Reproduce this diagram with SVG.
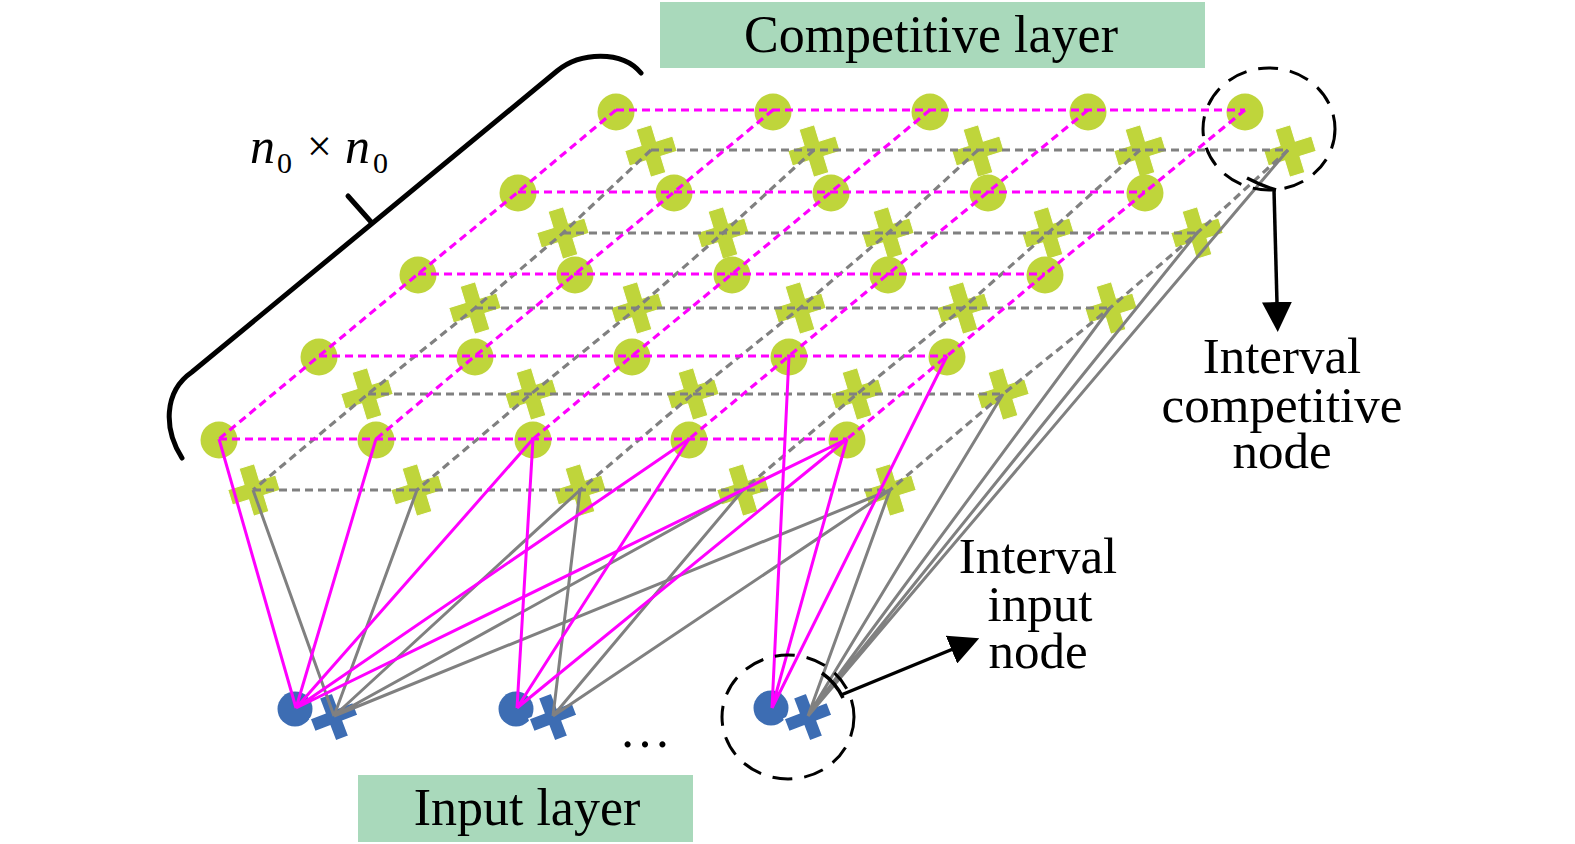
<svg xmlns="http://www.w3.org/2000/svg" width="1575" height="844" viewBox="0 0 1575 844">
<style>
.gc{fill:#bfd53b}
.gx{fill:#bfd53b;stroke:#ffffff;stroke-width:1}
.bc{fill:#3d6db3}
.bx{fill:#3d6db3;stroke:#ffffff;stroke-width:1.5}
.md{fill:none;stroke:#ff00ff;stroke-width:3.2;stroke-dasharray:8 5}
.gd{fill:none;stroke:#808080;stroke-width:3.2;stroke-dasharray:8 5}
.ms{fill:none;stroke:#ff00ff;stroke-width:3}
.gs{fill:none;stroke:#808080;stroke-width:3}
.box{fill:#a9d9bb}
.t{font-family:"Liberation Serif","Times New Roman",serif;fill:#000000}
.ring{fill:none;stroke:#000000;stroke-width:3;stroke-dasharray:20 12}
.arr{fill:none;stroke:#000000;stroke-width:3.5}
</style>
<defs>
<path id="plus" d="M-8,-25 H8 V-8 H25 V8 H8 V25 H-8 V8 H-25 V-8 H-8 Z"/>
<path id="bplus" d="M-7,-23 H7 V-7 H23 V7 H7 V23 H-7 V7 H-23 V-7 H-7 Z"/>
<marker id="ah" viewBox="0 0 30 30" refX="20" refY="15" markerWidth="30" markerHeight="30" markerUnits="userSpaceOnUse" orient="auto">
<path d="M0,0 L30,15 L0,30 Z" fill="#000000"/>
</marker>
</defs>
<rect class="box" x="660" y="2" width="545" height="66"/>
<text class="t" x="931" y="52" font-size="52" text-anchor="middle">Competitive layer</text>
<rect class="box" x="358" y="775" width="335" height="67"/>
<text class="t" x="527" y="825" font-size="52" text-anchor="middle">Input layer</text>
<g id="brace">
<path d="M182,458 C164,430 163,392 192,372 L557,71 C580,52 622,50 641,73" fill="none" stroke="#000000" stroke-width="5" stroke-linecap="round"/>
<path d="M372,223 L348,196" fill="none" stroke="#000000" stroke-width="5" stroke-linecap="round"/>
</g>
<g id="size-label">
<text class="t" x="250" y="163" font-size="50" font-style="italic">n</text>
<text class="t" x="277" y="173" font-size="30">0</text>
<text class="t" x="307" y="161" font-size="44">×</text>
<text class="t" x="345" y="163" font-size="50" font-style="italic">n</text>
<text class="t" x="373" y="173" font-size="30">0</text>
</g>
<g id="cross-nodes">
<g id="x-0-0"><use href="#plus" class="gx" transform="translate(651,151) rotate(-17)"/></g>
<g id="x-0-1"><use href="#plus" class="gx" transform="translate(814,151) rotate(-17)"/></g>
<g id="x-0-2"><use href="#plus" class="gx" transform="translate(978,151) rotate(-17)"/></g>
<g id="x-0-3"><use href="#plus" class="gx" transform="translate(1140,151) rotate(-17)"/></g>
<g id="x-0-4"><use href="#plus" class="gx" transform="translate(1290,151) rotate(-17)"/></g>
<g id="x-1-0"><use href="#plus" class="gx" transform="translate(563,233) rotate(-17)"/></g>
<g id="x-1-1"><use href="#plus" class="gx" transform="translate(723,233) rotate(-17)"/></g>
<g id="x-1-2"><use href="#plus" class="gx" transform="translate(888,233) rotate(-17)"/></g>
<g id="x-1-3"><use href="#plus" class="gx" transform="translate(1048,233) rotate(-17)"/></g>
<g id="x-1-4"><use href="#plus" class="gx" transform="translate(1197,233) rotate(-17)"/></g>
<g id="x-2-0"><use href="#plus" class="gx" transform="translate(475,308) rotate(-17)"/></g>
<g id="x-2-1"><use href="#plus" class="gx" transform="translate(637,308) rotate(-17)"/></g>
<g id="x-2-2"><use href="#plus" class="gx" transform="translate(800,308) rotate(-17)"/></g>
<g id="x-2-3"><use href="#plus" class="gx" transform="translate(963,308) rotate(-17)"/></g>
<g id="x-2-4"><use href="#plus" class="gx" transform="translate(1111,308) rotate(-17)"/></g>
<g id="x-3-0"><use href="#plus" class="gx" transform="translate(367,394) rotate(-17)"/></g>
<g id="x-3-1"><use href="#plus" class="gx" transform="translate(531,394) rotate(-17)"/></g>
<g id="x-3-2"><use href="#plus" class="gx" transform="translate(693,394) rotate(-17)"/></g>
<g id="x-3-3"><use href="#plus" class="gx" transform="translate(857,394) rotate(-17)"/></g>
<g id="x-3-4"><use href="#plus" class="gx" transform="translate(1003,394) rotate(-17)"/></g>
<g id="x-4-0"><use href="#plus" class="gx" transform="translate(254,490) rotate(-17)"/></g>
<g id="x-4-1"><use href="#plus" class="gx" transform="translate(417,490) rotate(-17)"/></g>
<g id="x-4-2"><use href="#plus" class="gx" transform="translate(580,490) rotate(-17)"/></g>
<g id="x-4-3"><use href="#plus" class="gx" transform="translate(743,490) rotate(-17)"/></g>
<g id="x-4-4"><use href="#plus" class="gx" transform="translate(890,490) rotate(-17)"/></g>
</g>
<g id="circle-nodes">
<g id="c-0-0"><circle class="gc" cx="616" cy="112" r="18.5"/></g>
<g id="c-0-1"><circle class="gc" cx="773" cy="112" r="18.5"/></g>
<g id="c-0-2"><circle class="gc" cx="930" cy="112" r="18.5"/></g>
<g id="c-0-3"><circle class="gc" cx="1088" cy="112" r="18.5"/></g>
<g id="c-0-4"><circle class="gc" cx="1245" cy="112" r="18.5"/></g>
<g id="c-1-0"><circle class="gc" cx="518" cy="193" r="18.5"/></g>
<g id="c-1-1"><circle class="gc" cx="674" cy="193" r="18.5"/></g>
<g id="c-1-2"><circle class="gc" cx="831" cy="193" r="18.5"/></g>
<g id="c-1-3"><circle class="gc" cx="988" cy="193" r="18.5"/></g>
<g id="c-1-4"><circle class="gc" cx="1145" cy="193" r="18.5"/></g>
<g id="c-2-0"><circle class="gc" cx="418" cy="275" r="18.5"/></g>
<g id="c-2-1"><circle class="gc" cx="575" cy="275" r="18.5"/></g>
<g id="c-2-2"><circle class="gc" cx="732" cy="275" r="18.5"/></g>
<g id="c-2-3"><circle class="gc" cx="888" cy="275" r="18.5"/></g>
<g id="c-2-4"><circle class="gc" cx="1045" cy="275" r="18.5"/></g>
<g id="c-3-0"><circle class="gc" cx="319" cy="357" r="18.5"/></g>
<g id="c-3-1"><circle class="gc" cx="475" cy="357" r="18.5"/></g>
<g id="c-3-2"><circle class="gc" cx="632" cy="357" r="18.5"/></g>
<g id="c-3-3"><circle class="gc" cx="789" cy="357" r="18.5"/></g>
<g id="c-3-4"><circle class="gc" cx="947" cy="357" r="18.5"/></g>
<g id="c-4-0"><circle class="gc" cx="219" cy="440" r="18.5"/></g>
<g id="c-4-1"><circle class="gc" cx="376" cy="440" r="18.5"/></g>
<g id="c-4-2"><circle class="gc" cx="533" cy="440" r="18.5"/></g>
<g id="c-4-3"><circle class="gc" cx="689" cy="440" r="18.5"/></g>
<g id="c-4-4"><circle class="gc" cx="847" cy="440" r="18.5"/></g>
</g>
<g id="input-nodes">
<g id="in-1"><circle class="bc" cx="295" cy="709" r="17.5"/><use href="#bplus" class="bx" transform="translate(334,717) rotate(-21)"/></g>
<g id="in-2"><circle class="bc" cx="516" cy="709" r="17.5"/><use href="#bplus" class="bx" transform="translate(553,717) rotate(-21)"/></g>
<g id="in-3"><circle class="bc" cx="771" cy="708" r="17.5"/><use href="#bplus" class="bx" transform="translate(808,717) rotate(-21)"/></g>
</g>
<text class="t" x="645" y="747" font-size="52" text-anchor="middle">…</text>
<g id="connectors">
<g id="grid-gray">
<path class="gd" d="M651,150 H1288 M563,233 H1197 M475,308 H1110 M368,394 H1003 M253,490 H890"/>
<path class="gd" d="M651,150 L563,233 L475,308 L368,394 L253,490 M814,150 L723,233 L637,308 L531,394 L417,490 M978,150 L888,233 L800,308 L693,394 L580,490 M1140,150 L1048,233 L963,308 L857,394 L743,490 M1288,150 L1197,233 L1110,308 L1003,394 L890,490"/>
</g>
<g id="grid-magenta">
<path class="md" d="M616,110 H1245 M518,192 H1145 M418,274 H1045 M319,356 H947 M219,439 H847"/>
<path class="md" d="M616,110 L518,192 L418,274 L319,356 L219,439 M773,110 L674,192 L575,274 L475,356 L376,439 M930,110 L831,192 L732,274 L632,356 L533,439 M1088,110 L988,192 L888,274 L789,356 L689,439 M1245,110 L1145,192 L1045,274 L947,356 L847,439"/>
</g>
<g id="links-gray">
<path class="gs" d="M334,716 L253,490 M334,716 L417,490 M334,716 L580,490 M334,716 L743,490 M334,716 L890,490"/>
<path class="gs" d="M553,716 L580,490 M553,716 L743,490 M553,716 L890,490"/>
<path class="gs" d="M808,716 L890,490 M808,716 L1003,394 M808,716 L1110,308 M808,716 L1197,233 M808,716 L1288,150"/>
</g>
<g id="links-magenta">
<path class="ms" d="M296,708 L219,439 M296,708 L376,439 M296,708 L533,439 M296,708 L689,439 M296,708 L847,439"/>
<path class="ms" d="M517,708 L533,439 M517,708 L689,439 M517,708 L847,439"/>
<path class="ms" d="M772,708 L847,439 M772,708 L789,356 M772,708 L947,356"/>
</g>
</g>
<g id="callout-competitive">
<ellipse class="ring" cx="1269" cy="129" rx="66" ry="61"/>
<path class="arr" d="M1247,178 Q1262,186 1276,190"/>
<path class="arr" d="M1274,190 L1277.5,322" marker-end="url(#ah)"/>
<text class="t" x="1282" y="373" font-size="51" text-anchor="middle">Interval</text>
<text class="t" x="1282" y="422" font-size="51" text-anchor="middle">competitive</text>
<text class="t" x="1282" y="468" font-size="51" text-anchor="middle">node</text>
</g>
<g id="callout-input">
<ellipse class="ring" cx="788" cy="717" rx="66" ry="62"/>
<path class="arr" d="M822,673 Q836,683 843,698"/>
<path class="arr" d="M841,695 L970,642" marker-end="url(#ah)"/>
<text class="t" x="1038" y="573" font-size="51" text-anchor="middle">Interval</text>
<text class="t" x="1040" y="621" font-size="51" text-anchor="middle">input</text>
<text class="t" x="1038" y="668" font-size="51" text-anchor="middle">node</text>
</g>
</svg>
